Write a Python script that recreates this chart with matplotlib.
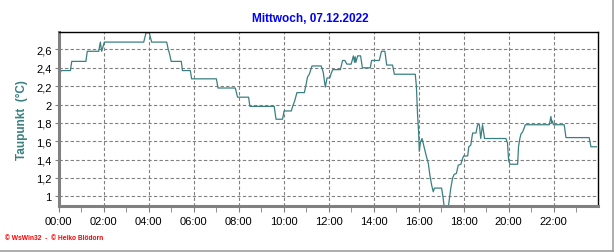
import numpy as np
import matplotlib.pyplot as plt
from matplotlib.ticker import FuncFormatter, MultipleLocator
from matplotlib.lines import Line2D

# time in hours, dew point in °C
hours = [0.00, 0.10, 0.52, 0.58, 1.21, 1.27, 1.78, 1.85, 1.91, 2.03,
         3.78, 3.88, 4.03, 4.13, 4.80, 4.87, 4.93, 5.00, 5.45, 5.50,
         5.85, 5.91, 7.01, 7.08, 7.85, 7.95, 8.44, 8.50, 9.58, 9.66,
         9.95, 10.02, 10.34, 10.40, 10.49, 10.59, 10.92, 10.99, 11.06, 11.14,
         11.26, 11.67, 11.76, 11.85, 11.93, 12.05, 12.10, 12.18, 12.52, 12.62,
         12.72, 12.81, 13.00, 13.10, 13.15, 13.18, 13.21, 13.29, 13.42, 13.50,
         13.85, 13.91, 14.25, 14.35, 14.50, 14.58, 14.84, 14.92, 15.85, 15.90,
         15.95, 16.00, 16.03, 16.08, 16.15, 16.20, 16.26, 16.35, 16.43, 16.50,
         16.58, 16.65, 16.70, 17.02, 17.08, 17.14, 17.32, 17.37, 17.43, 17.51,
         17.58, 17.68, 17.76, 17.88, 17.95, 18.00, 18.18, 18.23, 18.32, 18.40,
         18.55, 18.62, 18.70, 18.76, 18.84, 18.93, 19.88, 19.95, 20.00, 20.06,
         20.40, 20.44, 20.50, 20.55, 20.62, 20.70, 20.74, 21.81, 21.88, 21.92,
         21.95, 21.99, 22.47, 22.55, 23.58, 23.66, 23.90]
taupunkt = [2.27, 2.37, 2.37, 2.47, 2.47, 2.58, 2.58, 2.68, 2.58, 2.68,
            2.68, 2.78, 2.78, 2.68, 2.68, 2.60, 2.55, 2.47, 2.47, 2.37,
            2.37, 2.28, 2.28, 2.18, 2.18, 2.08, 2.08, 1.98, 1.98, 1.84,
            1.84, 1.93, 1.93, 1.98, 2.04, 2.13, 2.13, 2.21, 2.30, 2.33,
            2.42, 2.42, 2.35, 2.19, 2.29, 2.29, 2.33, 2.38, 2.38, 2.48,
            2.48, 2.44, 2.44, 2.53, 2.46, 2.52, 2.46, 2.53, 2.53, 2.40,
            2.40, 2.48, 2.48, 2.58, 2.58, 2.43, 2.43, 2.33, 2.33, 2.20,
            1.90, 1.70, 1.49, 1.59, 1.63, 1.58, 1.52, 1.43, 1.36, 1.23,
            1.12, 1.05, 1.09, 1.09, 1.00, 0.88, 0.88, 0.98, 1.09, 1.20,
            1.24, 1.25, 1.34, 1.35, 1.41, 1.44, 1.44, 1.54, 1.56, 1.69,
            1.69, 1.78, 1.78, 1.63, 1.78, 1.63, 1.63, 1.58, 1.39, 1.35,
            1.35, 1.54, 1.63, 1.68, 1.70, 1.75, 1.78, 1.78, 1.87, 1.80,
            1.82, 1.78, 1.78, 1.64, 1.64, 1.54, 1.54]

tick_hours = list(range(0, 24, 2))
tick_labels = [f'{h:02d}:00' for h in tick_hours]
y_ticks = [1.0, 1.2, 1.4, 1.6, 1.8, 2.0, 2.2, 2.4, 2.6]

plt.rcParams['font.family'] = ['Liberation Sans', 'DejaVu Sans']

fig = plt.figure(figsize=(6.16, 2.53), dpi=100)
ax = fig.add_axes([58.7/616, 1 - 207/253, (597.7 - 58.7)/616, (207 - 33)/253])

ax.plot(hours, taupunkt, color='#3a8080', lw=0.9)

ax.set_xlim(0, 23.96)
ax.set_ylim(0.895, 2.79)

ax.set_xticks(tick_hours)
ax.set_xticklabels(tick_labels, fontsize=8)
ax.xaxis.set_minor_locator(MultipleLocator(1))
ax.set_yticks(y_ticks)
ax.yaxis.set_major_formatter(FuncFormatter(lambda v, p: f'{v:g}'.replace('.', ',')))
ax.tick_params(axis='y', labelsize=8, length=3, color='#808080', pad=2)
ax.tick_params(axis='x', which='both', length=4, color='#808080', pad=3)

ax.grid(True, color='#808080', linestyle=(0, (3, 2)), lw=0.8)

for s in ['left', 'bottom']:
    ax.spines[s].set_color('#808080')
    ax.spines[s].set_linewidth(2.2)
for s in ['top', 'right']:
    ax.spines[s].set_color('black')
    ax.spines[s].set_linewidth(1.0)

ax.set_ylabel('Taupunkt  (°C)', color='#3a8080', fontsize=8.5, fontweight='bold', labelpad=6)

fig.text(310/616, 1 - 19/253, 'Mittwoch, 07.12.2022', color='#0000ff', fontsize=8.5,
         fontweight='bold', ha='center', va='center')
fig.text(5/616, 1 - 239/253, '© WsWin32  -  © Heiko Blödorn', color='#ff0000', fontsize=4.8,
         fontweight='bold', ha='left', va='center')

# grey frame on the right and bottom edge
fig.add_artist(Line2D([612.5/616, 612.5/616], [1 - 251.5/253, 1], color='#a0a0a0', lw=1.2))
fig.add_artist(Line2D([0, 613/616], [1 - 251.5/253, 1 - 251.5/253], color='#a0a0a0', lw=1.2))

fig.savefig('out.png', dpi=100)
